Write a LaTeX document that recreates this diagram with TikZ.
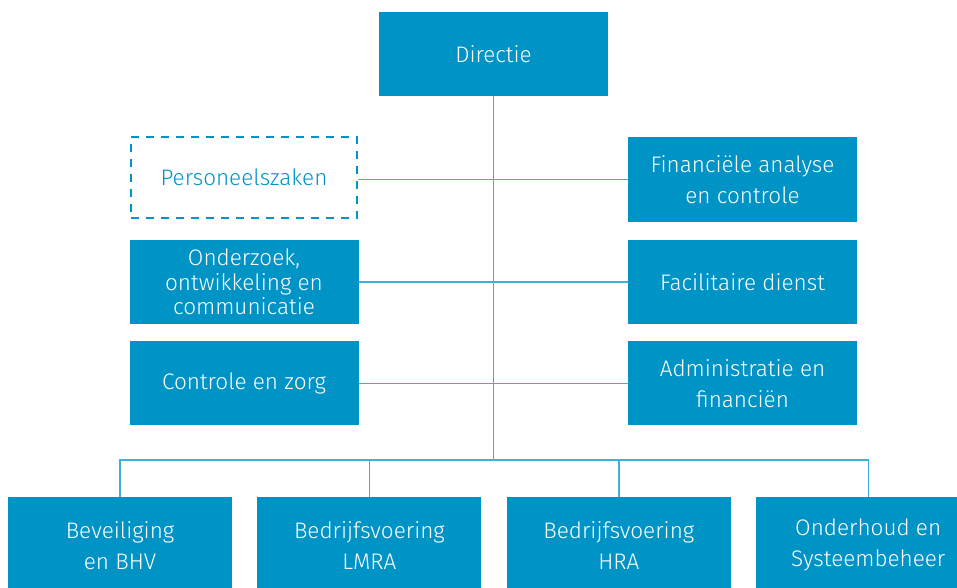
\documentclass[tikz,border=0pt]{standalone}
\usepackage{fontspec}
\setmainfont{Fira Sans Light}
\usepackage{tikz}
\usetikzlibrary{positioning}
\usepackage{xcolor}
\definecolor{OrgBlue}{HTML}{0093C6}
\definecolor{LineBlue}{HTML}{3FB0DA}
\tikzset{%
  unit/.style={%
    rectangle,%
    fill=OrgBlue,%
    text=white,%
    minimum width=229pt,%
    minimum height=84pt,%
    inner sep=2pt,%
    font={\fontsize{22.5}{31}\selectfont},%
    align=center%
  },
  tight/.style={%
    font={\fontsize{22.5}{24.5}\selectfont}%
  },
  staff/.style={%
    unit,%
    fill=none,%
    draw=OrgBlue,%
    text=OrgBlue,%
    line width=2.6pt,%
    dash pattern=on 8pt off 7pt,%
    minimum width=226pt,%
    minimum height=81pt%
  },
  bottom_unit/.style={%
    unit,%
    minimum width=224pt,%
    minimum height=96pt,%
    anchor=north%
  },
  link/.style={%
    draw=LineBlue,%
    line width=1.4pt%
  },
}

\begin{document}
\begin{tikzpicture}[x=1pt, y=1pt]
    \useasboundingbox (0,0) rectangle (957,-588);
    \clip (0,0) rectangle (957,-588);

    \node [unit] (Directie) at (493.5,-54) {Directie};
    \node [staff] (Personeel) at (244,-177.5) {Personeelszaken};
    \node [unit] (Financieel) at (742.5,-179.5) {Financiële analyse\\en controle};
    \node [unit, tight, below = 18 of Financieel.south -| Personeel, anchor=north] (Onderzoek)
      {Onderzoek,\\ontwikkeling en\\communicatie};
    \node [unit, below = 18 of Financieel] (Facilitair) {Facilitaire dienst};
    \node [unit, below = 17 of Onderzoek] (Controle) {Controle en zorg};
    \node [unit, below = 17 of Facilitair] (Administratie) {Administratie en\\financiën};

    \coordinate (bus) at (493.5,-460);
    \node [bottom_unit] (Beveiliging) at (120,-497) {Beveiliging\\en BHV};
    \node [bottom_unit, right = 25 of Beveiliging.north east, anchor=north west] (LMRA)
      {Bedrijfsvoering\\LMRA};
    \node [bottom_unit, right = 25 of LMRA.north east, anchor=north west] (HRA)
      {Bedrijfsvoering\\HRA};
    \node [bottom_unit, right = 25 of HRA.north east, anchor=north west] (Onderhoud)
      {Onderhoud en\\Systeembeheer};

    \draw [link] (Directie.south) -- (bus);
    \draw [link] (Personeel.east) ++(0,-2) -- (Financieel.west);
    \draw [link] (Onderzoek.east) -- (Facilitair.west);
    \draw [link] (Controle.east) -- (Administratie.west);
    \draw [link]
      (Beveiliging.north)
      |-
      (bus)
      -|
      (Onderhoud.north);
    \draw [link] (LMRA.north) -- (LMRA.north |- bus);
    \draw [link] (HRA.north) -- (HRA.north |- bus);
  \end{tikzpicture}
\end{document}
